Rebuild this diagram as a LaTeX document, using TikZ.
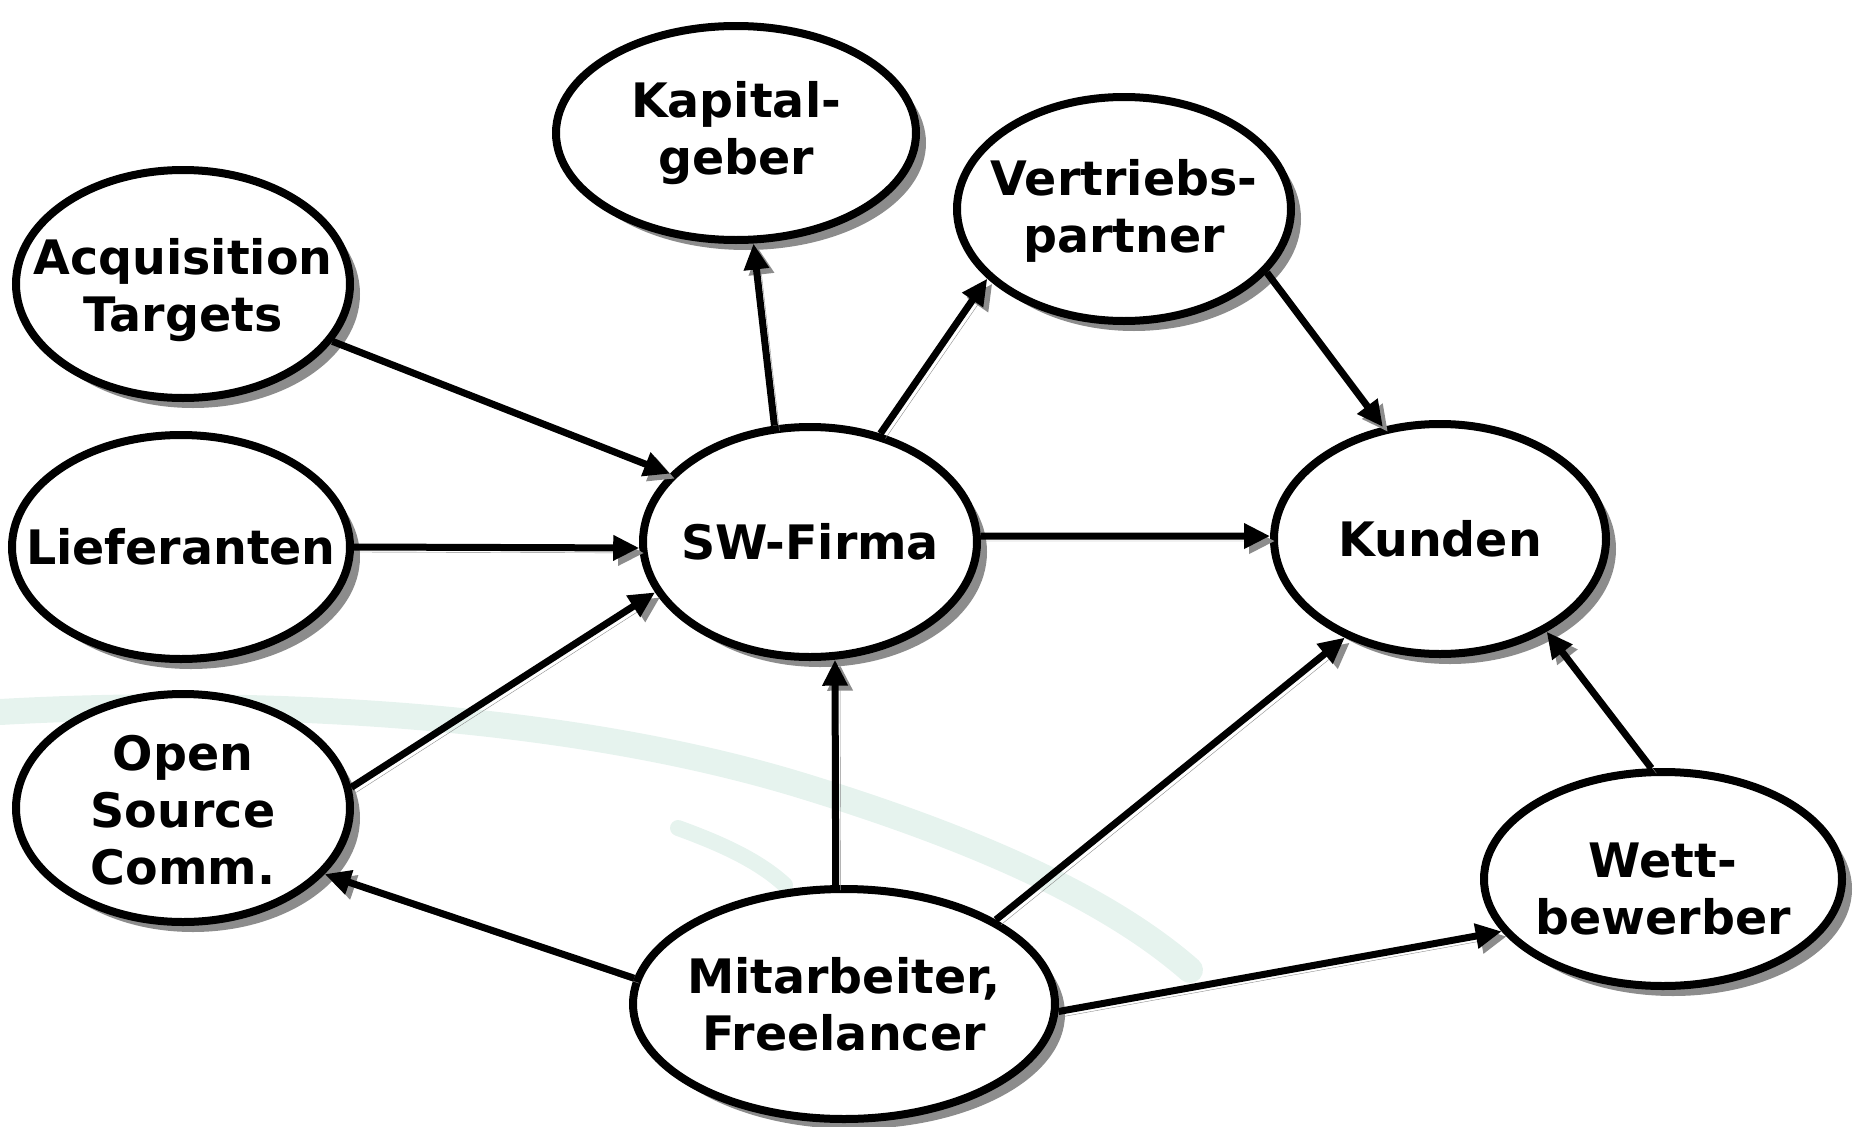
\documentclass[tikz,border=0pt]{standalone}
\usepackage{fontspec}
\setmainfont{DejaVu Sans}
\usetikzlibrary{shapes.geometric,arrows.meta}
\definecolor{shadowgray}{gray}{0.55}
\definecolor{swoosh}{RGB}{230,243,238}
\tikzset{
  ell/.style={ellipse, draw, line width=8pt, fill=white, inner sep=0pt,
    preaction={fill=shadowgray, transform canvas={shift={(10,10)}}}},
  lbl/.style={align=center, inner sep=0pt, font=\bfseries\fontsize{47.5}{57}\selectfont},
  arr/.style={line width=7pt, -{Triangle[length=26pt,width=24pt]},
    preaction={draw=shadowgray, transform canvas={shift={(5,5)}}}},
  band/.style={draw=swoosh, line cap=round, line join=round}
}
\begin{document}
\begin{tikzpicture}[x=1pt,y=-1pt]
\useasboundingbox (0,0) rectangle (1856,1127);
% background swoosh
\draw[band, line width=26pt] (0,712) .. controls (250,698) and (560,712) .. (800,785)
  .. controls (980,840) and (1110,900) .. (1190,970);
\draw[band, line width=16pt] (678,828) .. controls (725,845) and (760,862) .. (785,885);
% nodes
\node[ell, minimum width=360, minimum height=214] (kap) at (736,133) {};
\node[lbl] (kapt) at (kap) {Kapital-\\geber};
\node[ell, minimum width=334, minimum height=224] (vert) at (1124,209) {};
\node[lbl] (vertt) at ([yshift=-2]vert.center) {Vertriebs-\\partner};
\node[ell, minimum width=334, minimum height=228] (acq) at (183,284) {};
\node[lbl] (acqt) at ([yshift=-6]acq.center) {Acquisition\\Targets};
\node[ell, minimum width=338, minimum height=224] (lief) at (181,547) {};
\node[lbl] (lieft) at (lief) {Lieferanten};
\node[ell, minimum width=334, minimum height=230] (sw) at (810,542) {};
\node[lbl] (swt) at (sw) {SW-Firma};
\node[ell, minimum width=332, minimum height=230] (kun) at (1440,539) {};
\node[lbl] (kunt) at (kun) {Kunden};
\node[ell, minimum width=334, minimum height=228] (osc) at (183,808) {};
\node[lbl] (osct) at ([yshift=-2]osc.center) {Open\\Source\\Comm.};
\node[ell, minimum width=422, minimum height=230] (mit) at (844,1004) {};
\node[lbl] (mitt) at (mit) {Mitarbeiter,\\Freelancer};
\node[ell, minimum width=358, minimum height=214] (wett) at (1663,879) {};
\node[lbl] (wettt) at ([yshift=-10]wett.center) {Wett-\\bewerber};
% connectors
\draw[arr] (acq.339) -- (sw.154);
\draw[arr] (lief.0) -- (sw.182);
\draw[arr] (osc.7) -- (sw.198);
\draw[arr] (sw.107) -- (kap.279);
\draw[arr] (sw.57) -- (vert.207);
\draw[arr] (vert.336) -- (kun.117);
\draw[arr] (sw.2) -- (kun.179);
\draw[arr] (mit.94) -- (sw.282);
\draw[arr] (mit.173.5) -- (osc.335.5);
\draw[arr] (mit.29.5) -- (kun.226);
\draw[arr] (mit.358) -- (wett.198.5);
\draw[arr] (wett.96) -- (kun.319.5);
\end{tikzpicture}
\end{document}
